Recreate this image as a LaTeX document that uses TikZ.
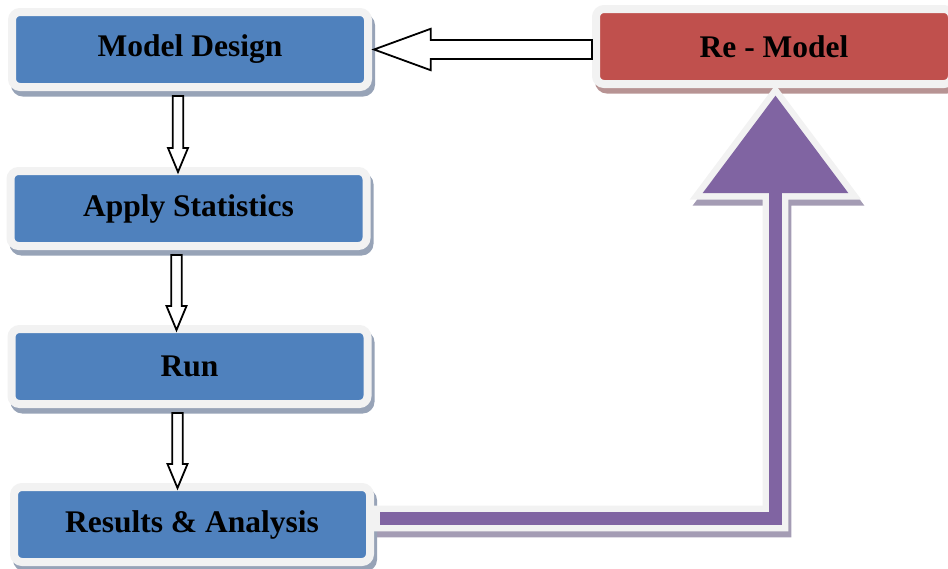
\documentclass[tikz,border=0pt]{standalone}
\usepackage{fontspec}
\setmainfont{Liberation Serif}
\usetikzlibrary{calc,shadows,backgrounds}

\definecolor{boxblue}{HTML}{4F81BD}
\definecolor{boxred}{HTML}{C0504D}
\definecolor{loopviolet}{HTML}{8064A2}
\definecolor{rimgray}{HTML}{F2F2F2}
\definecolor{blueshade}{HTML}{97A3B7}
\definecolor{redshade}{HTML}{B79393}
\definecolor{violetshade}{HTML}{A49CB4}

\tikzset{
  stagebase/.style={rectangle, rounded corners=8pt, draw=rimgray, line width=8pt,
    minimum width=356pt, minimum height=75pt, inner sep=0pt, text=black,
    font=\fontsize{31.5}{36}\selectfont\bfseries},
  stage/.style={stagebase, fill=boxblue,
    general shadow={draw=blueshade, fill=blueshade, line width=8pt,
      shadow xshift=3pt, shadow yshift=-5.5pt}},
  redstage/.style={stagebase, fill=boxred,
    general shadow={draw=redshade, fill=redshade, line width=8pt,
      shadow xshift=3pt, shadow yshift=-5.5pt}},
  hollow/.style={draw=black, line width=1.8pt, fill=white, line join=miter},
  loopbody/.style={preaction={draw=rimgray, line width=13pt, line join=miter},
    fill=loopviolet},
  loopshade/.style={draw=violetshade, fill=violetshade, line width=13pt, line join=miter},
}

% hollow block arrow pointing down from the bottom of #1 to the top of #2
\newcommand\stagearrow[2]{%
  \draw[hollow] let \p1=($(#1.south)+(-12,5)$), \p2=($(#2.north)+(-12,5)$) in
    (\x1-5.2pt,\y1) -- (\x1-5.2pt,\y2+24pt) -- (\x1-10pt,\y2+24pt) -- (\x1,\y2)
    -- (\x1+10pt,\y2+24pt) -- (\x1+5.2pt,\y2+24pt) -- (\x1+5.2pt,\y1) -- cycle;}

% outline of the violet feedback arrow, from the results box up to the re-model box
\newcommand\violetloop{%
  let \p1=($(ra.east)+(6,-6)$), \p2=($(rm.south)+(1.5,7.7)$) in
    (\x1,\y1+6.3pt) -- (\x2-6.3pt,\y1+6.3pt) -- (\x2-6.3pt,\y2-97.3pt)
    -- (\x2-72.8pt,\y2-97.3pt) -- (\x2,\y2) -- (\x2+72.8pt,\y2-97.3pt)
    -- (\x2+6.3pt,\y2-97.3pt) -- (\x2+6.3pt,\y1-6.3pt) -- (\x1,\y1-6.3pt) -- cycle}

\begin{document}
\begin{tikzpicture}[x=1pt,y=-1pt]
  \useasboundingbox (0,0) rectangle (948,568);

  % process stages
  \node[stage] (md) at (190,49.5) {Model Design};
  \node[stage] (as) at (188.5,208.5) {Apply Statistics};
  \node[stage] (run) at (189.5,366.5) {Run};
  \node[stage] (ra) at (192,524.5) {Results \& Analysis};
  \node[redstage] (rm) at (774,46.5) {Re - Model};

  % feedback loop
  \begin{scope}[on background layer]
    \path[loopshade, transform canvas={xshift=3pt, yshift=-6pt}] \violetloop;
  \end{scope}
  \path[loopbody] \violetloop;

  % flow between stages
  \stagearrow{md}{as}
  \stagearrow{as}{run}
  \stagearrow{run}{ra}

  \draw[hollow] let \p1=(rm.west |- md.east), \p2=($(md.east)+(2,0)$) in
    (\x1,\y1+9.5pt) -- (\x2+56.7pt,\y1+9.5pt) -- (\x2+56.7pt,\y1+20.7pt) -- (\x2,\y2)
    -- (\x2+56.7pt,\y1-20.7pt) -- (\x2+56.7pt,\y1-9.5pt) -- (\x1,\y1-9.5pt) -- cycle;
\end{tikzpicture}
\end{document}
